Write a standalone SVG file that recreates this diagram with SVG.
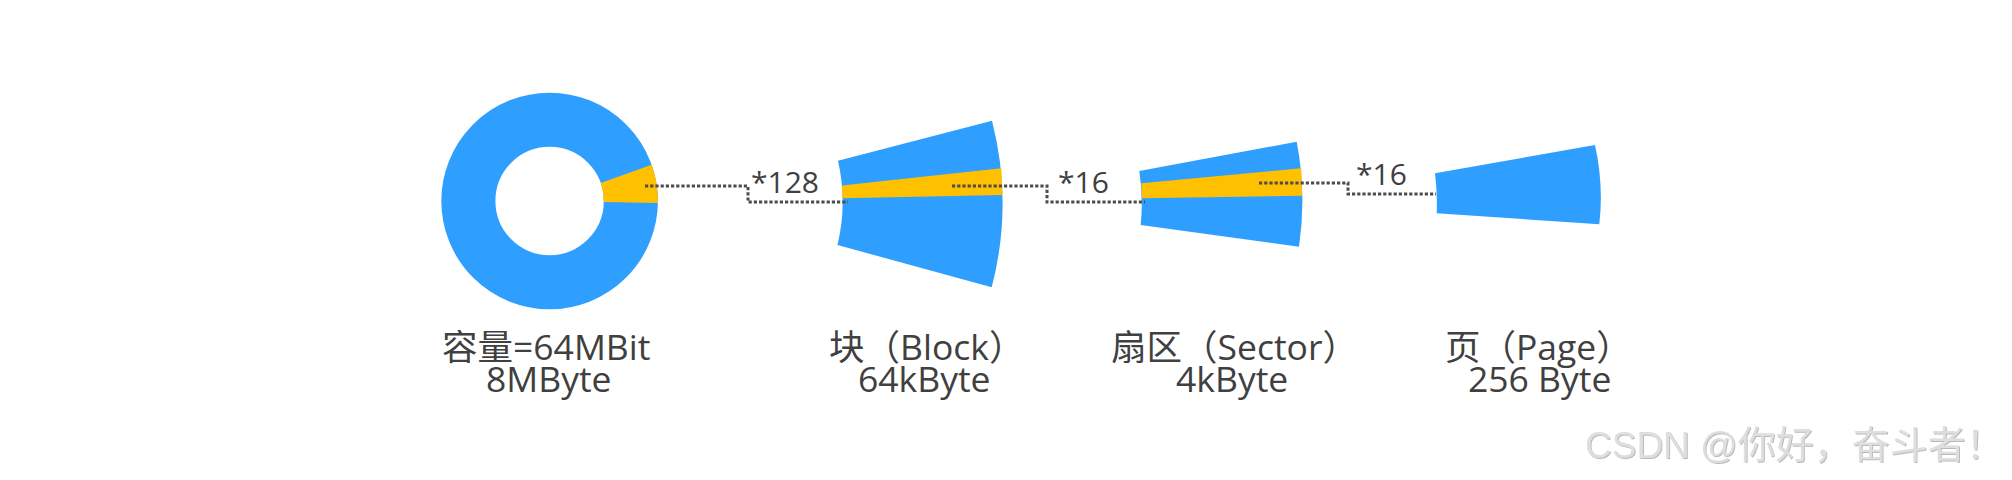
<svg xmlns="http://www.w3.org/2000/svg" width="2012" height="480" viewBox="0 0 2012 480">
  <defs>
    <style>
      .blue { fill: #2E9FFF; }
      .gold { fill: #FFC000; }
      .lbl { font-family: "Open Sans", "Noto Sans CJK SC", sans-serif; font-size: 35.5px; fill: #404040; }
      .mul { font-family: "Open Sans", "Noto Sans CJK SC", sans-serif; font-size: 30px; fill: #404040; }
      .dot { fill: none; stroke: #4d4d4d; stroke-width: 3; stroke-dasharray: 3.2 2; }
      .wm { font-family: "Liberation Sans", "Noto Sans CJK SC", sans-serif; fill: #dedede; }
    </style>
    <filter id="emboss" x="-5%" y="-20%" width="110%" height="140%">
      <feDropShadow dx="1" dy="1" stdDeviation="0.6" flood-color="#8a8a8a" flood-opacity="0.6"/>
    </filter>
  </defs>
  <rect width="2012" height="480" fill="#ffffff"/>

  <g id="node-capacity">
    <circle cx="549.6" cy="201" r="81.25" fill="none" stroke="#2E9FFF" stroke-width="54.1"/>
    <path class="gold" d="M657.9,202.9 A108.3,108.3 0 0 0 651.7,164.85 L600.7,182.9 A54.2,54.2 0 0 1 603.8,201.95 Z"/>
    <text class="lbl" y="360"><tspan x="442">容量=64MBit</tspan><tspan x="486" dy="32">8MByte</tspan></text>
  </g>

  <g id="node-block">
    <path class="blue" d="M838,160.7 L992,120.7 Q1013.4,204 991.7,287.3 L837.5,245 Q847.6,203 838,160.7 Z"/>
    <path class="gold" d="M841.8,185.5 L1001.3,168.3 L1002.6,195 L842.6,198.3 Z"/>
    <text class="lbl" y="360"><tspan x="829">块（Block）</tspan><tspan x="858" dy="32">64kByte</tspan></text>
  </g>

  <g id="node-sector">
    <path class="blue" d="M1139.3,171 L1296.7,141.7 Q1306.8,194 1299,246.7 L1140.7,225 Q1143.4,198 1139.3,171 Z"/>
    <path class="gold" d="M1141.3,183.3 L1301.2,168.3 L1302.2,195.7 L1141.8,198.3 Z"/>
    <text class="lbl" y="360"><tspan x="1111">扇区（Sector）</tspan><tspan x="1176" dy="32">4kByte</tspan></text>
  </g>

  <g id="node-page">
    <path class="blue" d="M1435,173.3 L1595,145 Q1603.9,185 1599.3,224.3 L1436.7,213.3 Q1437.5,193 1435,173.3 Z"/>
    <text class="lbl" y="360"><tspan x="1445">页（Page）</tspan><tspan x="1468" dy="32">256 Byte</tspan></text>
  </g>

  <g id="connectors">
    <path class="dot" d="M645,186 H748 V202 H848"/>
    <path class="dot" d="M952,186 H1047 V202 H1145"/>
    <path class="dot" d="M1259,183 H1348 V194 H1436"/>
    <text class="mul" x="751" y="193">*128</text>
    <text class="mul" x="1058" y="193">*16</text>
    <text class="mul" x="1356" y="185">*16</text>
  </g>

  <g id="watermark" filter="url(#emboss)">
    <text class="wm" x="1585" y="458" font-size="37">CSDN @<tspan font-family="'Noto Sans CJK SC', sans-serif" font-size="38">你好，奋斗者！</tspan></text>
  </g>
</svg>
